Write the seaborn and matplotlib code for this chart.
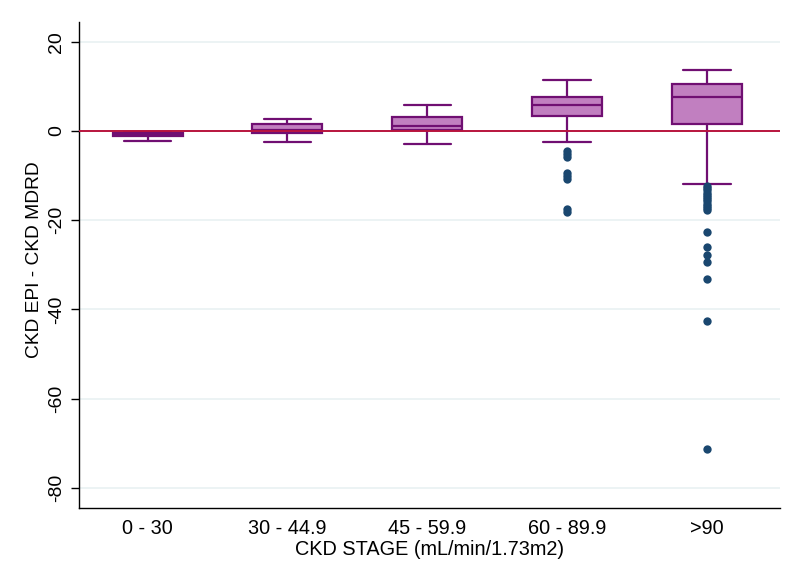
import numpy as np
import pandas as pd
import seaborn as sns
import matplotlib.pyplot as plt

# values
stages = ["0 - 30", "30 - 44.9", "45 - 59.9", "60 - 89.9", ">90"]
whis_lo = [-2.2, -2.4, -3.0, -2.4, -11.9]
q1 = [-1.2, -0.5, 0.1, 3.4, 1.6]
median = [-0.8, 0.1, 1.2, 5.7, 7.7]
q3 = [-0.4, 1.5, 3.1, 7.6, 10.5]
whis_hi = [-0.3, 2.7, 5.7, 11.5, 13.7]
out_60 = [-4.6, -5.2, -5.8, -9.5, -10.2, -10.8, -17.6, -18.2]
out_90 = [-12.3, -12.8, -13.3, -13.8, -14.3, -14.8, -15.3, -15.8, -16.3,
          -16.8, -17.3, -17.8, -22.6, -26.0, -27.8, -29.4, -33.1, -42.5, -71.3]

fliers = pd.DataFrame({
    "stage": ["60 - 89.9"] * len(out_60) + [">90"] * len(out_90),
    "diff": out_60 + out_90,
})

sns.set_style("white")
plt.rcParams["font.family"] = ["Liberation Sans", "DejaVu Sans"]
plt.rcParams["axes.unicode_minus"] = False
plt.rcParams["text.color"] = "black"
plt.rcParams["axes.labelcolor"] = "black"
plt.rcParams["xtick.color"] = "black"
plt.rcParams["ytick.color"] = "black"

fig = plt.figure(figsize=(8.01, 5.83), dpi=100)
ax = fig.add_axes([0.0986, 0.1286, 0.875, 0.8336])

for y in [-80, -60, -40, -20, 0, 20]:
    ax.axhline(y, color="#EAF2F3", lw=1.3, zorder=0)

sns.stripplot(data=fliers, x="stage", y="diff", order=stages, jitter=False,
              color="#1A476F", size=6, linewidth=0, ax=ax, zorder=4)

stats = [dict(med=median[i], q1=q1[i], q3=q3[i], whislo=whis_lo[i],
              whishi=whis_hi[i], fliers=[]) for i in range(len(stages))]
edge = "#700F72"
ax.bxp(stats, positions=range(len(stages)), widths=0.5, patch_artist=True,
       showfliers=False, manage_ticks=False,
       boxprops=dict(facecolor="#C17FC0", edgecolor=edge, lw=1.6),
       medianprops=dict(color=edge, lw=1.6),
       whiskerprops=dict(color=edge, lw=1.6),
       capprops=dict(color=edge, lw=1.6), capwidths=0.34)

ax.axhline(0, color="#B8143E", lw=1.4, zorder=3)

ax.set_xlim(-0.49, 4.52)
ax.set_ylim(-84.5, 24.4)
ax.set_yticks([-80, -60, -40, -20, 0, 20])
ax.tick_params(axis="y", length=6, width=1, color="black", labelsize=14,
               pad=4, left=True)
for t in ax.get_yticklabels():
    t.set_rotation(90)
    t.set_va("center")
ax.tick_params(axis="x", length=0, pad=8, labelsize=14.3)

ax.set_xlabel("CKD STAGE (mL/min/1.73m2)", fontsize=14.3, labelpad=1)
ax.set_ylabel("CKD EPI - CKD MDRD", fontsize=13.8)
ax.yaxis.set_label_coords(-0.051, 0.512)

for s in ["top", "right"]:
    ax.spines[s].set_visible(False)
for s in ["left", "bottom"]:
    ax.spines[s].set_color("black")
    ax.spines[s].set_linewidth(1)

fig.savefig("out.png", dpi=100)
